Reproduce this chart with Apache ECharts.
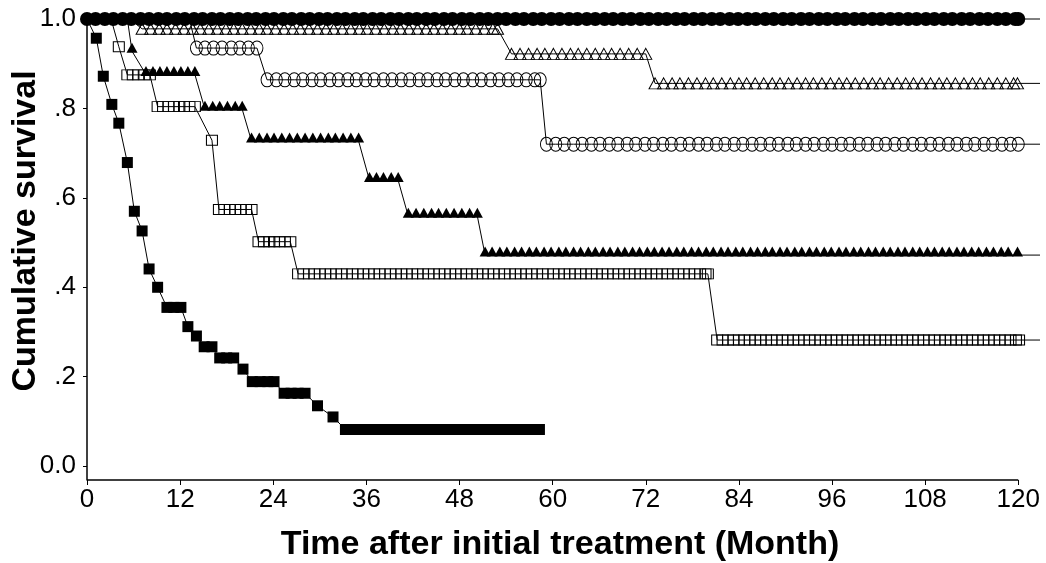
<!DOCTYPE html>
<html>
<head>
<meta charset="utf-8">
<script src="https://cdn.jsdelivr.net/npm/echarts@6/dist/echarts.min.js"></script>
<style>
  html, body { margin: 0; padding: 0; background: #fff; }
  #chart { width: 1046px; height: 563px; }
</style>
</head>
<body>
<div id="chart"></div>
<script>
// axis ticks
const xTicks = [0, 12, 24, 36, 48, 60, 72, 84, 96, 108, 120];
const yTicks = [0, 0.2, 0.4, 0.6, 0.8, 1.0];
const yTickLabels = ["0.0", ".2", ".4", ".6", ".8", "1.0"];
const xAxisEnd = 120;
const yAxisMin = -0.031;

// last drawn month of the survival lines (line runs a bit past the axis)
const tailMonth = 122.8;

// filled circles (no events)
const filledCircleS = [1.0];
const filledCircleT = [[
  0, 1.1, 2.3, 3.4, 4.6, 5.7, 6.9, 8.0, 9.2, 10.3, 11.5, 12.6, 13.8, 14.9, 16.1, 17.2,
  18.4, 19.5, 20.7, 21.8, 23.0, 24.1, 25.3, 26.4, 27.6, 28.7, 29.9, 31.0, 32.2, 33.3,
  34.5, 35.6, 36.8, 37.9, 39.1, 40.2, 41.4, 42.5, 43.7, 44.8, 46.0, 47.1, 48.3, 49.4,
  50.6, 51.7, 52.9, 54.0, 55.2, 56.3, 57.5, 58.6, 59.8, 60.9, 62.1, 63.2, 64.4, 65.5,
  66.7, 67.8, 69.0, 70.1, 71.3, 72.4, 73.6, 74.7, 75.9, 77.0, 78.2, 79.3, 80.5, 81.6,
  82.8, 83.9, 85.1, 86.2, 87.4, 88.5, 89.7, 90.8, 92.0, 93.1, 94.3, 95.4, 96.6, 97.7,
  98.9, 100.0, 101.2, 102.3, 103.5, 104.6, 105.8, 106.9, 108.1, 109.2, 110.4, 111.5,
  112.7, 113.8, 115.0, 116.1, 117.3, 118.4, 119.6, 120.0
]];

// open triangles
const openTriS = [1.0, 0.978, 0.922, 0.856];
const openTriT = [
  [5.5],
  [7.1, 8.2, 9.3, 10.3, 11.4, 12.5, 13.6, 14.6, 15.7, 16.8, 17.9, 18.9, 20.0, 21.1, 22.2,
   23.2, 24.3, 25.4, 26.5, 27.5, 28.6, 29.7, 30.8, 31.8, 32.9, 34.0, 35.1, 36.1, 37.2,
   38.3, 39.4, 40.4, 41.5, 42.6, 43.7, 44.7, 45.8, 46.9, 48.0, 49.0, 50.1, 51.2, 52.3, 52.9],
  [54.7, 55.8, 56.9, 58.0, 59.0, 60.1, 61.2, 62.3, 63.3, 64.4, 65.5, 66.6, 67.6, 68.7,
   69.8, 70.9, 72.0],
  [73.2, 74.3, 75.4, 76.4, 77.5, 78.6, 79.7, 80.7, 81.8, 82.9, 84.0, 85.0, 86.1, 87.2,
   88.3, 89.3, 90.4, 91.5, 92.6, 93.6, 94.7, 95.8, 96.9, 97.9, 99.0, 100.1, 101.2, 102.2,
   103.3, 104.4, 105.5, 106.5, 107.6, 108.7, 109.8, 110.8, 111.9, 113.0, 114.1, 115.1,
   116.2, 117.3, 118.4, 119.4, 119.9]
];

// open circles
const openCircleS = [1.0, 0.935, 0.864, 0.72];
const openCircleT = [
  [13.2],
  [14.1, 15.2, 16.3, 17.4, 18.6, 19.7, 20.8, 21.9],
  [23.2, 24.4, 25.5, 26.7, 27.8, 29.0, 30.1, 31.3, 32.4, 33.6, 34.7, 35.9, 37.0, 38.2,
   39.3, 40.5, 41.6, 42.8, 43.9, 45.1, 46.2, 47.4, 48.5, 49.7, 50.8, 52.0, 53.1, 54.3,
   55.4, 56.6, 57.7, 58.4],
  [59.2, 60.4, 61.5, 62.7, 63.8, 65.0, 66.1, 67.3, 68.4, 69.6, 70.7, 71.9, 73.0, 74.2,
   75.3, 76.5, 77.6, 78.8, 79.9, 81.1, 82.2, 83.4, 84.5, 85.7, 86.8, 88.0, 89.1, 90.3,
   91.4, 92.6, 93.7, 94.9, 96.0, 97.2, 98.3, 99.5, 100.6, 101.8, 102.9, 104.1, 105.2,
   106.4, 107.5, 108.7, 109.8, 111.0, 112.1, 113.3, 114.4, 115.6, 116.7, 117.9, 119.0, 120.0]
];

// filled triangles
const filledTriS = [1.0, 0.928, 0.876, 0.798, 0.727, 0.639, 0.559, 0.472];
const filledTriT = [
  [5.2],
  [5.8],
  [7.6, 8.5, 9.4, 10.3, 11.2, 12.1, 13.0, 13.9],
  [15.2, 16.2, 17.1, 18.1, 19.1, 20.0],
  [21.2, 22.2, 23.2, 24.1, 25.1, 26.1, 27.1, 28.1, 29.1, 30.1, 31.1, 32.0, 33.0, 34.0, 35.0],
  [36.4, 37.3, 38.2, 39.2, 40.1],
  [41.4, 42.4, 43.4, 44.4, 45.3, 46.3, 47.3, 48.3, 49.3, 50.3],
  [51.3, 52.2, 53.2, 54.1, 55.1, 56.0, 57.0, 57.9, 58.9, 59.8, 60.8, 61.7, 62.7, 63.6,
   64.6, 65.5, 66.5, 67.4, 68.4, 69.3, 70.3, 71.2, 72.2, 73.1, 74.1, 75.0, 76.0, 76.9,
   77.9, 78.8, 79.8, 80.7, 81.7, 82.6, 83.6, 84.5, 85.5, 86.4, 87.4, 88.3, 89.3, 90.2,
   91.2, 92.1, 93.1, 94.0, 95.0, 95.9, 96.9, 97.8, 98.8, 99.7, 100.7, 101.6, 102.6,
   103.5, 104.5, 105.4, 106.4, 107.3, 108.3, 109.2, 110.2, 111.1, 112.1, 113.0, 114.0,
   114.9, 115.9, 116.8, 117.8, 118.7, 119.9]
];

// open squares
const openSqS = [1.0, 0.938, 0.875, 0.804, 0.729, 0.574, 0.502, 0.43, 0.282];
const openSqT = [
  [3.1],
  [4.1],
  [5.2, 5.9, 6.6, 7.4, 8.1],
  [9.1, 9.8, 10.5, 11.2, 11.9, 12.5, 13.2, 13.9],
  [16.1],
  [17.0, 17.7, 18.4, 19.1, 19.8, 20.5, 21.2],
  [22.1, 22.8, 23.5, 24.1, 24.8, 25.5, 26.2],
  [27.2, 27.9, 28.6, 29.3, 30.0, 30.7, 31.4, 32.1, 32.8, 33.5, 34.2, 34.9, 35.6, 36.3,
   37.0, 37.7, 38.4, 39.1, 39.8, 40.5, 41.2, 41.9, 42.6, 43.3, 44.0, 44.7, 45.4, 46.1,
   46.8, 47.5, 48.2, 48.9, 49.6, 50.3, 51.0, 51.7, 52.4, 53.1, 53.8, 54.5, 55.2, 55.9,
   56.6, 57.3, 58.0, 58.7, 59.4, 60.1, 60.8, 61.5, 62.2, 62.9, 63.6, 64.3, 65.0, 65.7,
   66.4, 67.1, 67.8, 68.5, 69.2, 69.9, 70.6, 71.3, 72.0, 72.7, 73.4, 74.1, 74.8, 75.5,
   76.2, 76.9, 77.6, 78.3, 79.0, 79.7, 80.0],
  [81.2, 81.9, 82.6, 83.3, 84.0, 84.7, 85.4, 86.1, 86.8, 87.5, 88.2, 88.9, 89.6, 90.3,
   91.0, 91.7, 92.4, 93.1, 93.8, 94.5, 95.2, 95.9, 96.6, 97.3, 98.0, 98.7, 99.4, 100.1,
   100.8, 101.5, 102.2, 102.9, 103.6, 104.3, 105.0, 105.7, 106.4, 107.1, 107.8, 108.5,
   109.2, 109.9, 110.6, 111.3, 112.0, 112.7, 113.4, 114.1, 114.8, 115.5, 116.2, 116.9,
   117.6, 118.3, 119.0, 119.7, 120.1]
];

// filled squares
const filledSqS = [0.957, 0.872, 0.809, 0.767, 0.679, 0.57, 0.526, 0.441, 0.4, 0.355,
  0.312, 0.291, 0.267, 0.242, 0.217, 0.189, 0.163, 0.135, 0.11, 0.082];
const filledSqT = [
  [1.2], [2.1], [3.2], [4.1], [5.2], [6.1], [7.1], [8.0], [9.1],
  [10.3, 11.2, 12.1],
  [13.0], [14.1],
  [15.1, 16.1],
  [17.1, 18.0, 18.9],
  [20.1],
  [21.3, 22.3, 23.3, 24.1],
  [25.4, 26.3, 27.2, 28.1],
  [29.7], [31.7],
  [33.3, 34.3, 35.2, 36.2, 37.3, 38.2, 39.3, 40.2, 41.3, 42.3, 43.2, 44.3, 45.3, 46.2,
   47.3, 48.3, 49.2, 50.3, 51.3, 52.2, 53.3, 54.3, 55.2, 56.3, 57.3, 58.3]
];

// line vertices: start at (0,1), points at 1.0 stay hidden under the top band
function buildData(S, T, tail, hideTop) {
  const pts = [{ value: [0, 1], symbol: "none" }];
  S.forEach(function (s, i) {
    T[i].forEach(function (t) {
      if (hideTop && s === 1) pts.push({ value: [t, s], symbol: "none" });
      else pts.push([t, s]);
    });
  });
  if (tail) pts.push({ value: [tail, S[S.length - 1]], symbol: "none" });
  return pts;
}

const openStyle = { color: "rgba(0,0,0,0)", borderColor: "#000", borderWidth: 1 };
const fillStyle = { color: "#000", borderWidth: 0 };

function kmSeries(name, data, symbol, size, itemStyle, offset) {
  return {
    name: name,
    type: "line",
    data: data,
    symbol: symbol,
    symbolSize: size,
    symbolOffset: offset || [0, 0],
    showSymbol: true,
    showAllSymbol: true,
    clip: false,
    silent: true,
    lineStyle: { color: "#000", width: 1 },
    itemStyle: itemStyle,
    emphasis: { disabled: true },
  };
}

const chart = echarts.init(document.getElementById("chart"));
const font = "'Liberation Sans', Arial, sans-serif";

const series = [
  kmSeries("filledSquare", buildData(filledSqS, filledSqT, null, true), "rect", [11, 11], fillStyle),
  kmSeries("openSquare", buildData(openSqS, openSqT, tailMonth, true), "rect", [11, 10], openStyle),
  kmSeries("filledTriangle", buildData(filledTriS, filledTriT, tailMonth, true), "triangle", [11, 10], fillStyle, [0, -3.5]),
  kmSeries("openCircle", buildData(openCircleS, openCircleT, tailMonth, true), "circle", [12, 14], openStyle),
  kmSeries("openTriangle", buildData(openTriS, openTriT, tailMonth, true), "triangle", [12, 11], openStyle),
  kmSeries("filledCircle", buildData(filledCircleS, filledCircleT, tailMonth, false), "circle", 14, fillStyle),
];

// x axis line stops at 120 while the curves run on to the tail month
series[0].markLine = {
  silent: true,
  symbol: "none",
  label: { show: false },
  lineStyle: { color: "#000", width: 1.5, type: "solid" },
  data: [[{ coord: [0, yAxisMin] }, { coord: [xAxisEnd, yAxisMin] }]],
};

chart.setOption({
  animation: false,
  backgroundColor: "#fff",
  grid: { left: 87, right: 6, top: 19, bottom: 83 },
  xAxis: {
    type: "value",
    min: 0,
    max: tailMonth,
    axisLine: { show: false, onZero: false },
    axisTick: { show: true, customValues: xTicks, length: 5, lineStyle: { color: "#000", width: 1 } },
    axisLabel: {
      customValues: xTicks,
      color: "#000",
      fontFamily: font,
      fontSize: 26,
      margin: 7,
    },
    splitLine: { show: false },
  },
  yAxis: {
    type: "value",
    min: yAxisMin,
    max: 1.0,
    axisLine: { show: true, lineStyle: { color: "#000", width: 1.5 } },
    axisTick: { show: true, customValues: yTicks, length: 4, lineStyle: { color: "#000", width: 1 } },
    axisLabel: {
      customValues: yTicks,
      color: "#000",
      fontFamily: font,
      fontSize: 26,
      margin: 11,
      formatter: function (v) {
        const i = yTicks.findIndex(function (t) { return Math.abs(t - v) < 1e-6; });
        return i >= 0 ? yTickLabels[i] : "";
      },
    },
    splitLine: { show: false },
  },
  graphic: [
    {
      type: "text",
      x: 26,
      y: 231,
      rotation: Math.PI / 2,
      style: {
        text: "Cumulative survival",
        font: "bold 34px " + font,
        fill: "#000",
        align: "center",
        verticalAlign: "middle",
      },
    },
    {
      type: "text",
      x: 560,
      y: 545,
      style: {
        text: "Time after initial treatment (Month)",
        font: "bold 34px " + font,
        fill: "#000",
        align: "center",
        verticalAlign: "middle",
      },
    },
  ],
  series: series,
});
</script>
</body>
</html>
